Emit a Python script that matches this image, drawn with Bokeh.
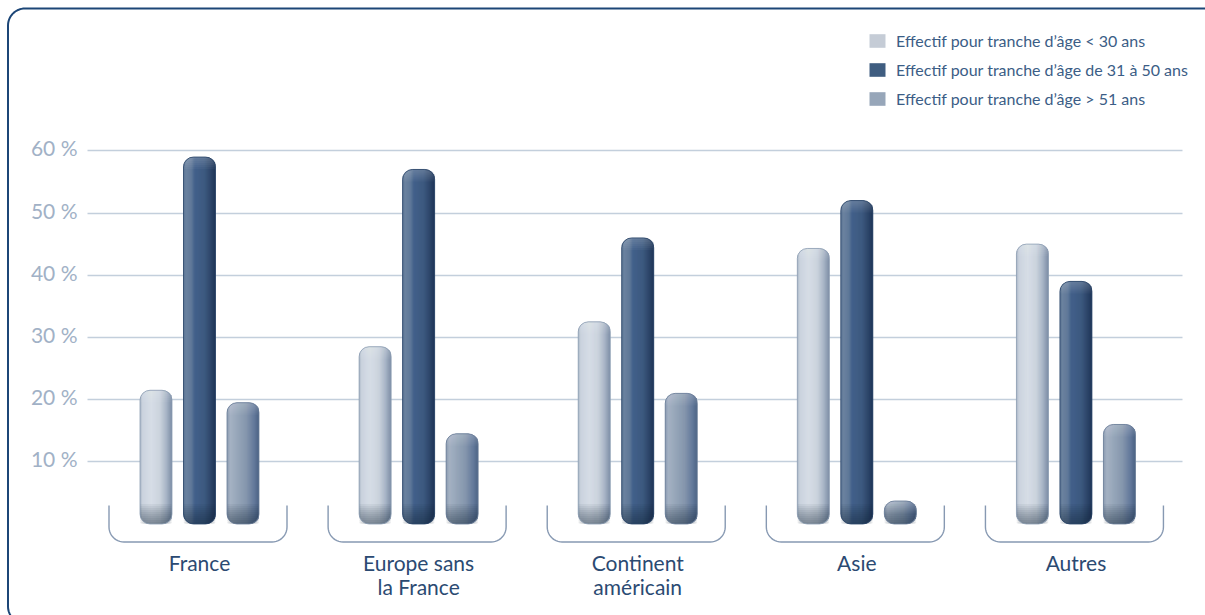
import numpy as np
from bokeh.plotting import figure
from bokeh.models import ColumnDataSource, Range1d, FixedTicker, Legend, LegendItem
from bokeh.core.properties import value
from bokeh.embed import file_html
from bokeh.resources import INLINE

# ---------------------------------------------------------------- data
regions = ["France", "Europe sans\nla France", "Continent\naméricain", "Asie", "Autres"]
series_labels = [
    "Effectif pour tranche d’âge < 30 ans",
    "Effectif pour tranche d’âge de 31 à 50 ans",
    "Effectif pour tranche d’âge > 51 ans",
]
under_30 = [21.5, 28.5, 32.5, 44.3, 45.0]
from_31_to_50 = [59.0, 57.0, 46.0, 52.0, 39.0]
over_51 = [19.5, 14.5, 21.0, 3.7, 16.0]
y_ticks = [10, 20, 30, 40, 50, 60]
y_tick_labels = ["10 %", "20 %", "30 %", "40 %", "50 %", "60 %"]

# ---------------------------------------------------------------- layout / style
W, H = 1205, 615
PX_X = 219.11           # pixels per region step
PX_Y = 6.22             # pixels per percentage point
ZERO_PX_X, ZERO_PX_Y = 199.0, 523.5
X_START = -ZERO_PX_X / PX_X
X_END = X_START + W / PX_X
Y_END = ZERO_PX_Y / PX_Y
Y_START = Y_END - H / PX_Y


def sx(px):
    return X_START + px / PX_X


def sy(py):
    return Y_END - py / PX_Y


BAR_W_PX = 32
OFFSET_PX = 43.5
RADIUS = 10
bar_w = BAR_W_PX / PX_X
offsets = [-OFFSET_PX / PX_X, 0.0, OFFSET_PX / PX_X]

FONT = "Lato"
legend_colors = ["#c5ccd6", "#3f5d80", "#97a6b9"]
outline_colors = ["#8c9db3", "#2c4669", "#6a7d98"]
gradients = [
    [(0.0, "#a9b5c5"), (0.08, "#cbd3de"), (0.35, "#d6dde6"), (0.62, "#cbd3dd"),
     (0.82, "#a8b5c6"), (1.0, "#7b8da5")],
    [(0.0, "#5a7394"), (0.08, "#6b829f"), (0.25, "#5f7898"), (0.35, "#42608a"),
     (0.65, "#3d5a80"), (0.82, "#30496d"), (1.0, "#1f3558")],
    [(0.0, "#8a9ab0"), (0.1, "#a5b2c3"), (0.3, "#98a7ba"), (0.6, "#8596ad"),
     (0.85, "#62789a"), (1.0, "#4b6284")],
]


def hex_rgb(h):
    h = h.lstrip("#")
    return np.array([int(h[i:i + 2], 16) for i in (0, 2, 4)], dtype=float)


def gradient_color(stops, t):
    for (t0, c0), (t1, c1) in zip(stops[:-1], stops[1:]):
        if t0 <= t <= t1:
            f = (t - t0) / (t1 - t0) if t1 > t0 else 0
            c = hex_rgb(c0) * (1 - f) + hex_rgb(c1) * f
            return "#%02x%02x%02x" % tuple(int(round(v)) for v in c)
    return stops[-1][1]


p = figure(width=W, height=H, output_backend="svg", toolbar_location=None,
           x_range=Range1d(X_START, X_END), y_range=Range1d(Y_START, Y_END),
           x_axis_location=None, y_axis_location=None,
           min_border=0)
p.outline_line_color = None
p.background_fill_color = "white"
p.border_fill_color = "white"

# horizontal grid limited to the plotting band
p.xgrid.visible = False
p.ygrid.ticker = FixedTicker(ticks=y_ticks)
p.ygrid.cross_bounds = (sx(87), sx(1182))
p.ygrid.grid_line_color = "#c3cfdc"
p.ygrid.grid_line_width = 1.4

# outer rounded frame (top and left edges run off the page)
BL, BT, BB, BR = 7.5, 8.0, 623.0, 1230.0
cr = 17.0
ang = np.linspace(0, np.pi / 2, 16)
frame_px = ([(BR, BT), (BL + cr, BT)]
            + [(BL + cr - cr * np.sin(a), BT + cr - cr * np.cos(a)) for a in ang]
            + [(BL, BB - cr)]
            + [(BL + cr - cr * np.cos(a), BB - cr + cr * np.sin(a)) for a in ang]
            + [(BR, BB)])
p.line([sx(a) for a, _ in frame_px], [sy(b) for _, b in frame_px],
       line_color="#1c4677", line_width=2)

# y tick labels
p.text(x=[sx(77)] * len(y_ticks), y=y_ticks, text=y_tick_labels, y_offset=-3,
       text_align="right", text_baseline="middle", text_font=value(FONT),
       text_font_size="21px", text_color="#a1b1c6")

# ---------------------------------------------------------------- brackets under each group
half = 89 / PX_X
b_top = 18.5 / PX_Y
b_bot = -18.0 / PX_Y
rx, ry = 15 / PX_X, 15 / PX_Y
ang2 = np.linspace(0, np.pi / 2, 12)
bx, by = [], []
for i in range(len(regions)):
    xl, xr = i - 1.5 / PX_X - half, i - 1.5 / PX_X + half
    xs = [xl] + list(xl + rx - rx * np.cos(ang2)) + list(xr - rx + rx * np.sin(ang2)) + [xr]
    ys = [b_top] + list(b_bot + ry - ry * np.sin(ang2)) + list(b_bot + ry - ry * np.cos(ang2)) + [b_top]
    bx.append(xs)
    by.append(ys)
p.multi_line(bx, by, line_color="#8799b2", line_width=1.4)

# ---------------------------------------------------------------- bars
all_series = [under_30, from_31_to_50, over_51]
legend_items = []
for s, vals in enumerate(all_series):
    xs = [i + offsets[s] for i in range(len(vals))]
    src = ColumnDataSource(dict(x=xs, top=vals))
    body = p.vbar(x="x", top="top", bottom=0, width=bar_w, source=src,
                  fill_color=legend_colors[s], line_color=None,
                  border_radius=RADIUS)
    legend_items.append(LegendItem(label=series_labels[s], renderers=[body]))

    # shaded strips across the bar width, following the rounded ends
    L, R, T, B, C = [], [], [], [], []
    for x, v in zip(xs, vals):
        left = x - bar_w / 2
        for k in range(BAR_W_PX):
            u = k + 0.5
            d = min(u, BAR_W_PX - u)
            inset = RADIUS - np.sqrt(max(RADIUS ** 2 - (RADIUS - d) ** 2, 0)) if d < RADIUS else 0.0
            L.append(left + k / PX_X)
            R.append(left + min(k + 1.6, BAR_W_PX) / PX_X)
            T.append(v - inset / PX_Y)
            B.append(inset / PX_Y)
            C.append(gradient_color(gradients[s], u / BAR_W_PX))
    p.quad(left=L, right=R, top=T, bottom=B, fill_color=C, line_color=None)

    # darker base and lighter cap, built from thin translucent layers
    for h_px in range(2, 22, 2):
        tops = [min(h_px / PX_Y, v) for v in vals]
        p.vbar(x=xs, top=tops, bottom=0, width=bar_w, fill_color="#0f213c",
               fill_alpha=0.055, line_color=None, border_radius=(0, 0, RADIUS, RADIUS))
    for h_px in range(2, 14, 2):
        bots = [max(v - h_px / PX_Y, 0) for v in vals]
        p.vbar(x=xs, top=vals, bottom=bots, width=bar_w, fill_color="white",
               fill_alpha=0.035, line_color=None, border_radius=(RADIUS, RADIUS, 0, 0))
    p.vbar(x=xs, top=vals, bottom=0, width=bar_w, fill_alpha=0,
           line_color=outline_colors[s], line_width=1, line_alpha=0.8,
           border_radius=RADIUS)

# ---------------------------------------------------------------- region labels
lx, ly, lt, lo = [], [], [], []
for i, name in enumerate(regions):
    for j, line in enumerate(name.split("\n")):
        lx.append(i)
        ly.append(sy(562.0))
        lt.append(line)
        lo.append(j * 23.5)
p.text(x=lx, y=ly, text=lt, y_offset=lo, text_align="center",
       text_baseline="alphabetic", text_font=value(FONT),
       text_font_size="21px", text_color="#2b4a72")

# ---------------------------------------------------------------- legend
legend = Legend(items=legend_items, location=(867, 507), orientation="vertical",
                glyph_width=20, glyph_height=17, label_standoff=9, spacing=9,
                label_height=20, padding=0, margin=0,
                label_text_font=FONT, label_text_font_size="16px",
                label_text_color="#3b5d86", border_line_color=None,
                background_fill_alpha=0)
p.add_layout(legend, "center")

open("out.html", "w").write(file_html(p, INLINE))
